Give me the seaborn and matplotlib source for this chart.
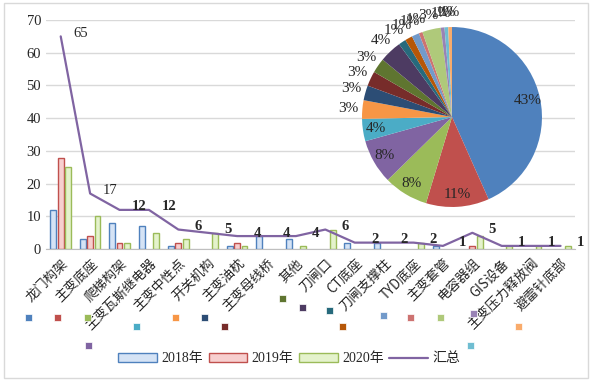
import numpy as np
import pandas as pd
import matplotlib
matplotlib.use("Agg")
import matplotlib.pyplot as plt
from matplotlib.patches import Patch, Rectangle
from matplotlib.lines import Line2D
import seaborn as sns

# Du lieu
categories = ["龙门构架", "主变底座", "爬梯构架", "主变瓦斯继电器", "主变中性点", "开关机构",
              "主变油枕", "主变母线桥", "其他", "刀闸口", "CT底座", "刀闸支撑柱",
              "TYD底座", "主变套管", "电容器组", "GIS设备", "主变压力释放阀", "避雷针底部"]
y2018 = [12, 3, 8, 7, 1, 0, 1, 4, 3, 0, 2, 2, 0, 1, 0, 0, 0, 0]
y2019 = [28, 4, 2, 0, 2, 0, 2, 0, 0, 0, 0, 0, 0, 0, 1, 0, 0, 0]
y2020 = [25, 10, 2, 5, 3, 5, 1, 0, 1, 6, 0, 0, 2, 0, 4, 1, 1, 1]
totals = [65, 17, 12, 12, 6, 5, 4, 4, 4, 6, 2, 2, 2, 1, 5, 1, 1, 1]
years = ["2018年", "2019年", "2020年"]

bar_fill = ["#D5E3F5", "#F7CFCF", "#E4F2CC"]
bar_edge = ["#4F81BD", "#C0504D", "#9BBB59"]
line_color = "#8064A2"
pie_colors = ["#4F81BD", "#C0504D", "#9BBB59", "#8064A2", "#4BACC6", "#F79646",
              "#2C4D75", "#772C2A", "#5F7530", "#4D3B62", "#276A7C", "#B65708",
              "#729ACA", "#CD7371", "#AFC97A", "#9983B5", "#6FBDD1", "#F9AB6B"]

sns.set_style("white")
plt.rcParams["font.family"] = ["Liberation Serif", "Noto Sans CJK SC"]

df = pd.DataFrame({"类别": categories, years[0]: y2018, years[1]: y2019, years[2]: y2020})
df_long = df.melt(id_vars="类别", var_name="年份", value_name="数量")

fig = plt.figure(figsize=(5.9, 3.81), dpi=100)
ax = fig.add_axes([0.078, 0.346, 0.897, 0.6015])

# Cot theo nam
sns.barplot(data=df_long, x="类别", y="数量", hue="年份", palette=dict(zip(years, bar_fill)),
            saturation=1, width=0.75, gap=0.2, legend=False, ax=ax, zorder=2)
for cont, ec in zip(ax.containers, bar_edge):
    for bar in cont:
        bar.set_edgecolor(ec)
        bar.set_linewidth(1)
        if bar.get_height() == 0:
            bar.set_visible(False)

# Duong tong
sns.lineplot(x=np.arange(len(categories)), y=totals, color=line_color, linewidth=1.6, ax=ax, zorder=3)
for i, v in enumerate(totals):
    ax.annotate(str(v), (i, v), xytext=(20, 3), textcoords="offset pixels",
                ha="center", va="center", fontsize=10.5,
                fontweight="normal" if v > 15 else "bold", zorder=4)

ax.set_xlim(-0.5, len(categories) - 0.5)
ax.set_ylim(0, 70)
ax.set_yticks(range(0, 71, 10))
ax.yaxis.grid(True, color="#D9D9D9", linewidth=1)
ax.set_axisbelow(True)
for s in ["left", "right", "top"]:
    ax.spines[s].set_visible(False)
ax.spines["bottom"].set_color("#BFBFBF")
ax.tick_params(axis="both", length=0, labelsize=10.5)
ax.tick_params(axis="x", pad=5)
ax.set_xlabel("")
ax.set_ylabel("")
ax.set_xticks(range(len(categories)))
ax.set_xticklabels(categories, rotation=45, ha="right", rotation_mode="anchor",
                   fontsize=9.6, family=["Noto Sans CJK SC"])

# Pie
pax = fig.add_axes([0.6136, 0.4567, 0.305, 0.4724])
wedges, _ = pax.pie(totals, colors=pie_colors, startangle=90, counterclock=False,
                    wedgeprops={"linewidth": 0})
pax.set_xlim(-1, 1)
pax.set_ylim(-1, 1)
pax.set_aspect("equal")
pax.axis("off")
total = sum(totals)
for i, (w, v) in enumerate(zip(wedges, totals)):
    ang = np.deg2rad((w.theta1 + w.theta2) / 2)
    r = 0.86 if i < 5 else 1.16
    pax.text(r * np.cos(ang), r * np.sin(ang), f"{round(v / total * 100)}%",
             ha="center", va="center", fontsize=11, clip_on=False)

# O vuong chu thich duoi nhan
fig.canvas.draw()
renderer = fig.canvas.get_renderer()
inv = fig.transFigure.inverted()
for lab, c in zip(ax.get_xticklabels(), pie_colors):
    bb = lab.get_window_extent(renderer)
    x0, y0 = inv.transform((bb.x0 + 2, bb.y0 - 17))
    fig.add_artist(Rectangle((x0, y0), 7 / 590, 7 / 381, transform=fig.transFigure,
                             facecolor=c, edgecolor="white", linewidth=0.5))

# Legend
handles = [Patch(facecolor=f, edgecolor=e, linewidth=1) for f, e in zip(bar_fill, bar_edge)]
handles.append(Line2D([], [], color=line_color, linewidth=1.6))
fig.legend(handles, years + ["汇总"], loc="center", bbox_to_anchor=(0.49, 0.058), ncol=4,
           frameon=False, fontsize=10, handlelength=2.8, handleheight=0.6,
           handletextpad=0.3, columnspacing=0.4)

# Khung ngoai
fig.add_artist(Rectangle((0.006, 0.008), 0.99, 0.985, transform=fig.transFigure,
                         fill=False, edgecolor="#D9D9D9", linewidth=1))

fig.savefig("out.png", dpi=100)
